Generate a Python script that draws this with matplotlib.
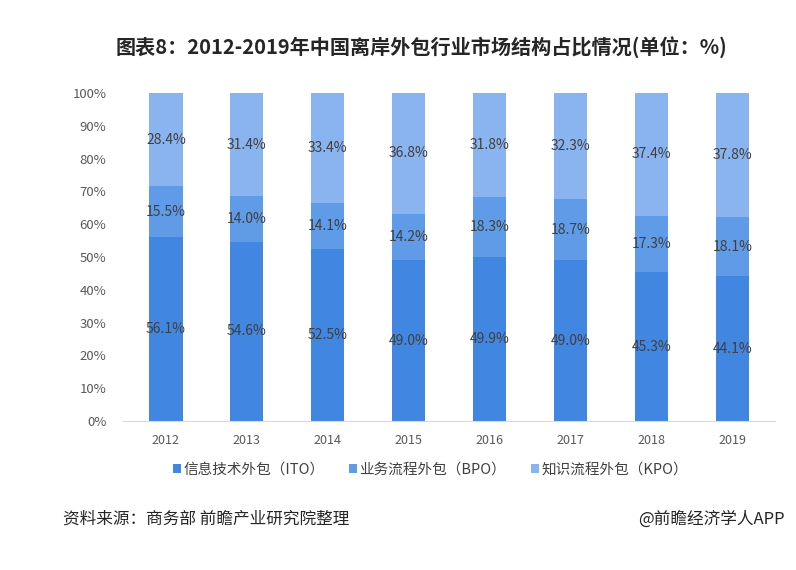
import numpy as np
import matplotlib.pyplot as plt

plt.rcParams['font.family'] = ['Noto Sans CJK SC', 'DejaVu Sans']

years = ['2012', '2013', '2014', '2015', '2016', '2017', '2018', '2019']
ito = [56.1, 54.6, 52.5, 49.0, 49.9, 49.0, 45.3, 44.1]
bpo = [15.5, 14.0, 14.1, 14.2, 18.3, 18.7, 17.3, 18.1]
kpo = [28.4, 31.4, 33.4, 36.8, 31.8, 32.3, 37.4, 37.8]
series_names = ['信息技术外包（ITO）', '业务流程外包（BPO）', '知识流程外包（KPO）']
colors = ['#4186e0', '#5f9be6', '#8ab4f0']

fig = plt.figure(figsize=(7.96, 5.70), dpi=100)
ax = fig.add_axes([0.1545, 0.2614, 0.819, 0.5754])

x = np.arange(len(years))
bottom = np.zeros(len(years))
handles = []
for vals, c, name in zip([ito, bpo, kpo], colors, series_names):
    vals = np.array(vals)
    b = ax.bar(x, vals, width=0.41, bottom=bottom, color=c, label=name)
    handles.append(b)
    for xi, v, bt in zip(x, vals, bottom):
        ax.text(xi, bt + v / 2, f'{v:.1f}%', ha='center', va='center',
                fontsize=10, color='#404040')
    bottom += vals

ax.set_xlim(-0.53, 7.52)
ax.set_ylim(0, 100)
ax.set_yticks(np.arange(0, 101, 10))
ax.set_yticklabels([f'{v}%' for v in range(0, 101, 10)])
ax.set_xticks(x)
ax.set_xticklabels(years)
ax.tick_params(axis='both', length=0, labelsize=9.5, colors='#595959')
ax.tick_params(axis='x', pad=9, labelsize=9)
ax.tick_params(axis='y', pad=12)
for s in ['top', 'right', 'left']:
    ax.spines[s].set_visible(False)
ax.spines['bottom'].set_color('#d9d9d9')

fig.legend(handles=handles, loc='center', bbox_to_anchor=(0.541, 0.176),
           ncol=3, frameon=False, fontsize=10.5, handlelength=0.55,
           handleheight=0.55, handletextpad=0.15, columnspacing=1.7,
           labelcolor='#404040')

fig.text(0.529, 0.917, '图表8：2012-2019年中国离岸外包行业市场结构占比情况(单位：%)',
         ha='center', va='center', fontsize=14.5, fontweight='bold', color='#262626')
fig.text(0.079, 0.089, '资料来源：商务部 前瞻产业研究院整理', ha='left', va='center',
         fontsize=12, color='#262626')
fig.text(0.986, 0.089, '@前瞻经济学人APP', ha='right', va='center',
         fontsize=12, color='#262626')

fig.savefig('out.png', dpi=100)
